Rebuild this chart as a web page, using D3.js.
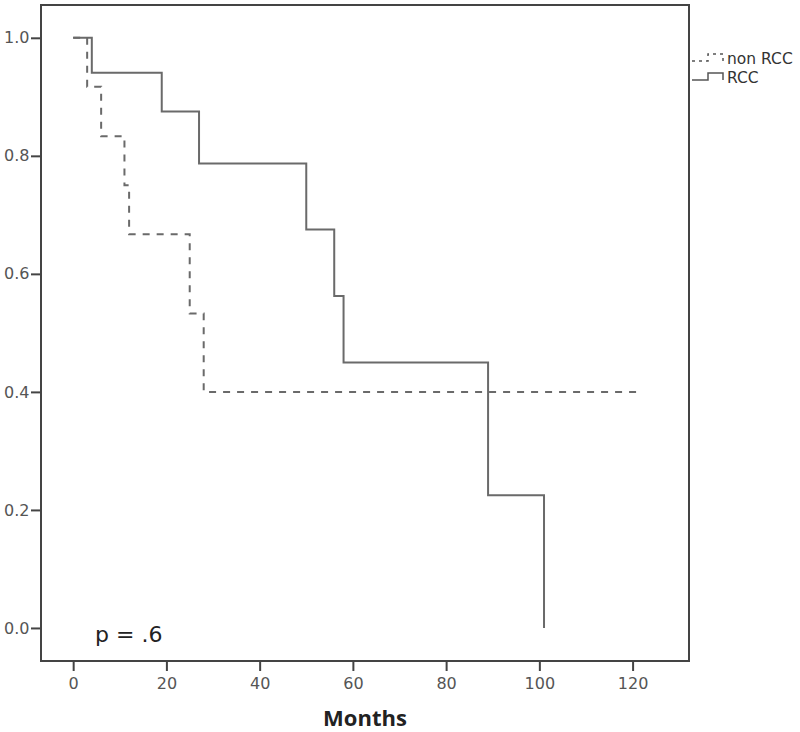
<!DOCTYPE html>
<html>
<head>
<meta charset="utf-8">
<script src="https://cdn.jsdelivr.net/npm/d3@7"></script>
<style>
    body { margin: 0; background: #fff; }
    .tick text { font-family: "DejaVu Sans", sans-serif; font-size: 16px; fill: #555; }
    .tick line { stroke: #444; stroke-width: 2; }
</style>
</head>
<body>
<div id="chart"></div>
<script>
// survival curves
var rccMonths = [0, 4, 19, 27, 50, 56, 58, 89, 101];
var rccSurvival = [1.0, 0.941, 0.875, 0.787, 0.675, 0.5625, 0.45, 0.225, 0.0];
var nonRccMonths = [0, 3, 6, 11, 12, 25, 28, 122];
var nonRccSurvival = [1.0, 0.917, 0.833, 0.75, 0.667, 0.533, 0.4, 0.4];

var xTicks = [0, 20, 40, 60, 80, 100, 120];
var yTicks = [0.0, 0.2, 0.4, 0.6, 0.8, 1.0];
var legendLabels = ["non RCC", "RCC"];

function makeKmPlot(container) {
    var width = 800, height = 732;
    var frame = {left: 41, right: 689, top: 5, bottom: 661};

    var svg = d3.select(container)
        .append('svg')
        .attr('width', width)
        .attr('height', height);

    var x = d3.scaleLinear()
        .domain([-6.9, 132.1])
        .range([frame.left, frame.right]);
    var y = d3.scaleLinear()
        .domain([-0.056, 1.0556])
        .range([frame.bottom, frame.top]);

    svg.append("g")
        .attr("transform", "translate(0," + frame.bottom + ")")
        .call(d3.axisBottom(x).tickValues(xTicks).tickSize(10).tickPadding(7))
        .call(function (g) { g.select(".domain").remove(); });

    svg.append("g")
        .attr("transform", "translate(" + frame.left + ",0)")
        .call(d3.axisLeft(y).tickValues(yTicks).tickFormat(d3.format(".1f")).tickSize(10).tickPadding(1.5))
        .call(function (g) { g.select(".domain").remove(); });

    svg.append("rect")
        .attr("x", frame.left)
        .attr("y", frame.top)
        .attr("width", frame.right - frame.left)
        .attr("height", frame.bottom - frame.top)
        .attr("fill", "none")
        .attr("stroke", "#444")
        .attr("stroke-width", 2);

    var line = d3.line()
        .x(function (d) { return x(d[0]); })
        .y(function (d) { return y(d[1]); })
        .curve(d3.curveStepAfter);

    svg.append("path")
        .datum(d3.zip(nonRccMonths, nonRccSurvival))
        .attr("d", line)
        .attr("fill", "none")
        .attr("stroke", "#6a6a6a")
        .attr("stroke-width", 2)
        .attr("stroke-dasharray", "7,7");

    svg.append("path")
        .datum(d3.zip(rccMonths, rccSurvival))
        .attr("d", line)
        .attr("fill", "none")
        .attr("stroke", "#6a6a6a")
        .attr("stroke-width", 2);

    // legend outside the frame, top right
    var legend = svg.selectAll(".legend_item")
        .data(legendLabels)
        .enter().append("g")
        .attr("class", "legend_item")
        .attr("transform", function (d, i) { return "translate(0," + (i * 19) + ")"; });

    legend.append("path")
        .attr("d", "M692,61 H708 V54 H723 V61")
        .attr("fill", "none")
        .attr("stroke", "#555")
        .attr("stroke-width", 1.5)
        .attr("stroke-dasharray", function (d, i) { return i == 0 ? "3,4" : null; });

    legend.append("text")
        .attr("x", 727)
        .attr("y", 64)
        .style("font-family", "'DejaVu Sans', sans-serif")
        .style("font-size", "15.5px")
        .style("fill", "#333")
        .text(function (d) { return d; });

    svg.append("text")
        .attr("x", 95)
        .attr("y", 642)
        .style("font-family", "'DejaVu Sans', sans-serif")
        .style("font-size", "22px")
        .style("fill", "#222")
        .text("p = .6");

    svg.append("text")
        .attr("x", (frame.left + frame.right) / 2)
        .attr("y", 726)
        .attr("text-anchor", "middle")
        .style("font-family", "'Open Sans', sans-serif")
        .style("font-weight", "bold")
        .style("font-size", "22px")
        .style("fill", "#222")
        .text("Months");
}

makeKmPlot("#chart");
</script>
</body>
</html>
